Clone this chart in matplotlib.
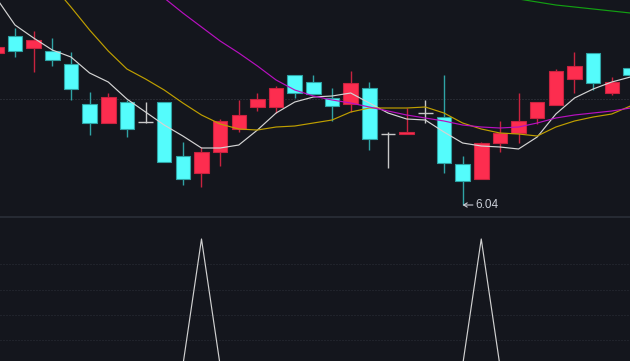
import matplotlib
matplotlib.use("Agg")
import matplotlib.pyplot as plt
import numpy as np

# ---------------- data (index -1 .. 33) ----------------
idx = list(range(-1, 34))
opens = [6.80, 6.885, 6.825, 6.81, 6.745, 6.545, 6.45, 6.555, 6.455, 6.555,
         6.285, 6.20, 6.305, 6.42, 6.53, 6.53, 6.69, 6.655, 6.575, 6.545,
         6.625, 6.395, 6.395, 6.50, 6.48, 6.245, 6.17, 6.35, 6.40, 6.475,
         6.54, 6.67, 6.80, 6.60, 6.725]
highs = [6.84, 6.925, 6.91, 6.875, 6.805, 6.605, 6.60, 6.565, 6.555, 6.555,
         6.355, 6.33, 6.47, 6.565, 6.60, 6.635, 6.69, 6.69, 6.625, 6.71,
         6.655, 6.405, 6.525, 6.565, 6.69, 6.285, 6.355, 6.46, 6.60, 6.555,
         6.72, 6.805, 6.80, 6.68, 6.725]
lows = [6.79, 6.78, 6.705, 6.735, 6.565, 6.39, 6.45, 6.38, 6.45, 6.255,
        6.14, 6.13, 6.235, 6.405, 6.51, 6.50, 6.575, 6.595, 6.46, 6.505,
        6.315, 6.225, 6.395, 6.45, 6.20, 6.04, 6.17, 6.305, 6.35, 6.445,
        6.54, 6.60, 6.615, 6.59, 6.69]
closes = [6.83, 6.81, 6.865, 6.765, 6.62, 6.45, 6.58, 6.42, 6.455, 6.255,
          6.17, 6.305, 6.46, 6.49, 6.57, 6.625, 6.60, 6.595, 6.535, 6.65,
          6.37, 6.395, 6.405, 6.50, 6.25, 6.16, 6.35, 6.40, 6.46, 6.555,
          6.71, 6.735, 6.65, 6.655, 6.69]

ma5 = [7.075, 6.94, 6.875, 6.815, 6.78, 6.70, 6.655, 6.57, 6.505, 6.44,
       6.385, 6.325, 6.325, 6.34, 6.415, 6.50, 6.555, 6.58, 6.585, 6.60,
       6.55, 6.50, 6.47, 6.465, 6.405, 6.35, 6.335, 6.33, 6.32, 6.38,
       6.495, 6.575, 6.62, 6.655, 6.68]
ma10 = [7.44, 7.34, 7.24, 7.14, 7.03, 6.915, 6.81, 6.72, 6.67, 6.615,
        6.55, 6.49, 6.445, 6.42, 6.415, 6.43, 6.435, 6.45, 6.465, 6.505,
        6.525, 6.525, 6.525, 6.53, 6.50, 6.45, 6.42, 6.40, 6.395, 6.385,
        6.43, 6.46, 6.48, 6.495, 6.535]
ma20 = [7.75, 7.675, 7.60, 7.525, 7.45, 7.375, 7.30, 7.225, 7.15, 7.075,
        7.00, 6.93, 6.86, 6.80, 6.735, 6.665, 6.615, 6.585, 6.565, 6.55,
        6.53, 6.51, 6.49, 6.475, 6.46, 6.44, 6.43, 6.425, 6.43, 6.45,
        6.475, 6.49, 6.50, 6.51, 6.525]
ma60 = [np.nan] * 24 + [7.135, 7.115, 7.10, 7.085, 7.07, 7.055, 7.04, 7.03,
                        7.02, 7.01, 7.00]

signal = [0] * 11 + [100] + [0] * 14 + [100] + [0] * 8

low_label = "6.04"
low_index = 24

# ---------------- style ----------------
BG = "#14161d"
UP = "#fd2d4f"
UP_EDGE = "#c8233f"
DOWN = "#54fcfc"
DOWN_EDGE = "#2fa3a5"
DOJI = "#c8c8c8"

fig = plt.figure(figsize=(6.30, 3.61), dpi=100, facecolor=BG)
ax = fig.add_axes([0, 145 / 361, 1, 216 / 361], facecolor=BG)
ax2 = fig.add_axes([0, 0, 1, 142 / 361], facecolor=BG)

for a in (ax, ax2):
    for s in a.spines.values():
        s.set_visible(False)
    a.set_xticks([])
    a.set_yticks([])
    a.set_xlim(-0.804, 32.976)

ax.set_ylim(5.985, 7.065)
ax2.set_ylim(3.56, 115.8)

# grid lines
ax.axhline(6.57, color="#3a3e48", lw=0.72, ls=(0, (1, 2)), zorder=1)
for g in (20, 40, 60, 80):
    ax2.axhline(g, color="#2c3039", lw=0.72, ls=(0, (1, 2)), zorder=1)

# candles
w = 0.78
for x, o, h, l, c in zip(idx, opens, highs, lows, closes):
    if abs(c - o) < 1e-9:
        ax.vlines(x, l, h, color=DOJI, lw=1.0, zorder=2)
        ax.hlines(o, x - w / 2, x + w / 2, color=DOJI, lw=1.0, zorder=3)
        continue
    up = c > o
    col = UP if up else DOWN
    ecol = UP_EDGE if up else DOWN_EDGE
    ax.vlines(x, l, h, color=ecol, lw=1.0, zorder=2)
    ax.bar(x, abs(c - o), bottom=min(o, c), width=w, color=col,
           edgecolor=ecol, linewidth=0.8, zorder=3)

# moving averages
ax.plot(idx, ma5, color="#d4d4d4", lw=0.85, zorder=4)
ax.plot(idx, ma10, color="#bf9f00", lw=0.85, zorder=4)
ax.plot(idx, ma20, color="#b810c0", lw=0.85, zorder=4)
ax.plot(idx, ma60, color="#12a012", lw=0.85, zorder=4)

# low label
ax.annotate(low_label, xy=(low_index, lows[low_index + 1]), xytext=(9.4, 0),
            textcoords="offset points", ha="left", va="center",
            color="#c9cdd6", fontsize=8.5, family="Liberation Sans",
            arrowprops=dict(arrowstyle="->,head_length=0.3,head_width=0.18",
                            color="#c9cdd6", lw=0.8, shrinkA=0, shrinkB=0),
            zorder=5)

# lower indicator
ax2.plot(idx, signal, color="#d0d0d0", lw=0.85, zorder=3)

# separator
fig.add_artist(plt.Line2D([0, 1], [1 - 217 / 361, 1 - 217 / 361],
                          transform=fig.transFigure, color="#262a33", lw=1.5))

fig.savefig("out.png", dpi=100, facecolor=BG)
